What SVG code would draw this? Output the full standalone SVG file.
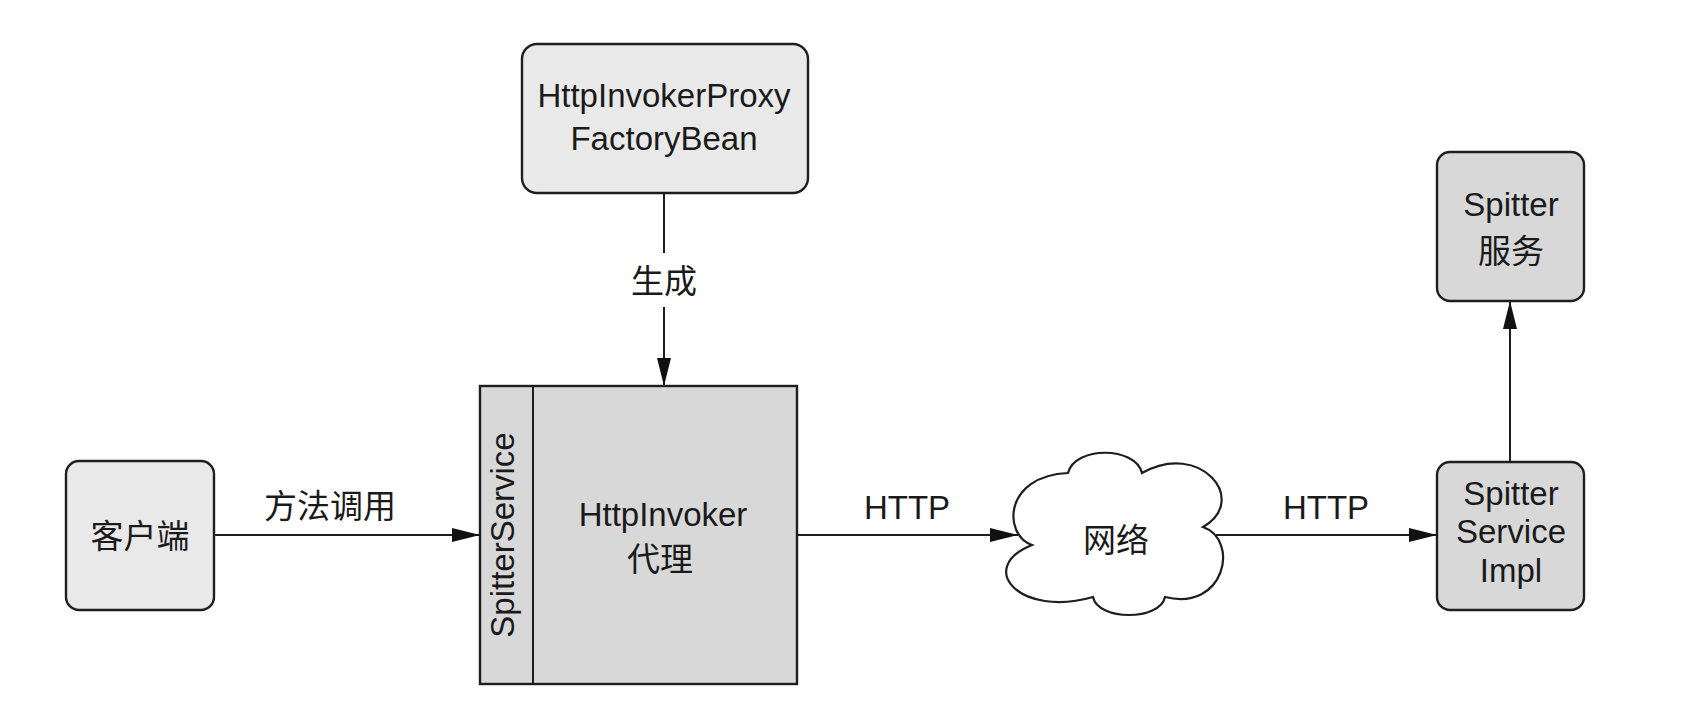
<svg xmlns="http://www.w3.org/2000/svg" width="1696" height="726" viewBox="0 0 1696 726">
<style>
.t{font-family:"Liberation Sans","Noto Sans CJK SC",sans-serif;font-size:33px;fill:#1a1a1a;text-anchor:middle}
.light{fill:#e9e9e9;stroke:#1e1e1e;stroke-width:2.4}
.dark{fill:#d8d8d8;stroke:#1e1e1e;stroke-width:2.4}
.ln{stroke:#1e1e1e;stroke-width:2;fill:none}
</style>
<defs>
<marker id="arr" viewBox="0 0 28 14" refX="28" refY="7" markerWidth="28" markerHeight="14" markerUnits="userSpaceOnUse" orient="auto">
<path d="M0,0 L28,7 L0,14 Z" fill="#111"/>
</marker>
</defs>
<rect width="1696" height="726" fill="#ffffff"/>
<g id="factory">
<rect class="light" x="522" y="44" width="286" height="149" rx="15"/>
<text class="t" x="664" y="107">HttpInvokerProxy</text>
<text class="t" x="664" y="150">FactoryBean</text>
</g>
<g id="client">
<rect class="light" x="66" y="461" width="148" height="149" rx="13"/>
<text class="t" x="140" y="548">客户端</text>
</g>
<g id="proxy">
<rect class="dark" x="480" y="386" width="317" height="298"/>
<line class="ln" x1="533" y1="386" x2="533" y2="684"/>
<text class="t" transform="translate(514,535) rotate(-90)">SpitterService</text>
<text class="t" x="663" y="526">HttpInvoker</text>
<text class="t" x="660" y="571">代理</text>
</g>
<g id="network">
<path d="M1032,545 C1003,535 1003,476 1068,473 C1075,446 1135,446 1142,473 C1200,440 1250,500 1203,527 C1240,540 1225,612 1165,597 C1160,621 1098,621 1093,597 C1020,618 975,568 1032,545 Z" fill="#ffffff" stroke="#1e1e1e" stroke-width="2.2"/>
<text class="t" x="1116" y="552">网络</text>
</g>
<g id="impl">
<rect class="dark" x="1437" y="462" width="147" height="148" rx="13"/>
<text class="t" x="1511" y="505">Spitter</text>
<text class="t" x="1511" y="543">Service</text>
<text class="t" x="1511" y="582">Impl</text>
</g>
<g id="service">
<rect class="dark" x="1437" y="152" width="147" height="149" rx="13"/>
<text class="t" x="1511" y="216">Spitter</text>
<text class="t" x="1511" y="263">服务</text>
</g>
<g id="connectors">
<line class="ln" x1="664" y1="193" x2="664" y2="253"/>
<line class="ln" x1="664" y1="307" x2="664" y2="386" marker-end="url(#arr)"/>
<text class="t" x="664" y="293">生成</text>
<line class="ln" x1="214" y1="535" x2="480" y2="535" marker-end="url(#arr)"/>
<text class="t" x="330" y="518">方法调用</text>
<line class="ln" x1="797" y1="535" x2="1018" y2="535" marker-end="url(#arr)"/>
<text class="t" x="907" y="519">HTTP</text>
<line class="ln" x1="1216" y1="535" x2="1437" y2="535" marker-end="url(#arr)"/>
<text class="t" x="1326" y="519">HTTP</text>
<line class="ln" x1="1510" y1="462" x2="1510" y2="301" marker-end="url(#arr)"/>
</g>
</svg>
